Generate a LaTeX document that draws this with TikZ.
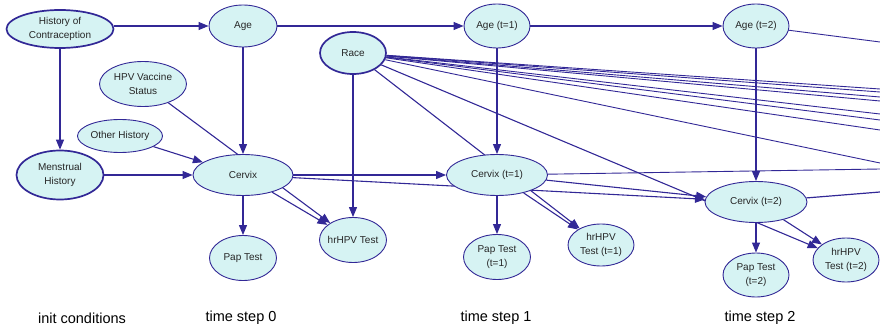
\documentclass[tikz,border=0pt]{standalone}
\usepackage{fontspec}
\setmainfont{Liberation Sans}
\usetikzlibrary{arrows.meta, shapes.geometric, backgrounds}
\definecolor{netblue}{RGB}{50,40,150}
\definecolor{netfill}{RGB}{214,243,243}

\begin{document}
\begin{tikzpicture}[x=1pt, y=-1pt, line join=round, >={Triangle[length=10pt,width=8pt]}, every node/.style={font=\fontsize{10}{14}\selectfont, align=center, text=black!85},
	var/.style={ellipse, draw=netblue, fill=netfill, line width=0.9pt, inner xsep=-3pt, inner ysep=0pt},
	rootvar/.style={var, line width=1.7pt},
	link/.style={->, draw=netblue, line width=1.1pt},
	stub/.style={draw=netblue, line width=0.9pt},
	steplabel/.style={font=\fontsize{14.5}{17}\selectfont, text=black}]
	\useasboundingbox (0,0) rectangle (880,331);
	% init conditions
	\node[rootvar, minimum width=107pt, minimum height=38pt] (contra) at (60,29) {History of\\Contraception};
	\node[rootvar, minimum width=87pt, minimum height=49pt] (mens) at (60,175) {Menstrual\\History};
	\node[var, minimum width=87pt, minimum height=45pt] (vacc) at (143,84) {HPV Vaccine\\Status};
	\node[var, minimum width=85pt, minimum height=33pt] (other) at (120,136) {Other History};
	\node[rootvar, minimum width=66pt, minimum height=42pt] (race) at (353,53) {Race};
	% time step 0
	\node[var, minimum width=68pt, minimum height=42pt] (age0) at (243,26) {Age};
	\node[var, minimum width=100pt, minimum height=41pt] (cervix0) at (243,175) {Cervix};
	\node[var, minimum width=67pt, minimum height=45pt] (pap0) at (243,258) {Pap Test};
	\node[var, minimum width=67pt, minimum height=45pt] (hpv0) at (353,240) {hrHPV Test};
	% time step 1
	\node[var, minimum width=66pt, minimum height=44pt] (age1) at (497,26) {Age (t=1)};
	\node[var, minimum width=101pt, minimum height=41pt] (cervix1) at (497,175) {Cervix (t=1)};
	\node[var, minimum width=67pt, minimum height=45pt] (pap1) at (497,257) {Pap Test\\(t=1)};
	\node[var, minimum width=66pt, minimum height=42pt] (hpv1) at (601,245) {hrHPV\\Test (t=1)};
	% time step 2
	\node[var, minimum width=66pt, minimum height=44pt] (age2) at (756,26) {Age (t=2)};
	\node[var, minimum width=102pt, minimum height=41pt] (cervix2) at (756,202) {Cervix (t=2)};
	\node[var, minimum width=66pt, minimum height=44pt] (pap2) at (756,275) {Pap Test\\(t=2)};
	\node[var, minimum width=66pt, minimum height=44pt] (hpv2) at (846,260) {hrHPV\\Test (t=2)};

	\node[steplabel] (lblinit) at (82,318) {init conditions};
	\node[steplabel] (lbl0) at (241,318) {time step 0};
	\node[steplabel] (lbl1) at (496,318) {time step 1};
	\node[steplabel] (lbl2) at (760,318) {time step 2};

	\coordinate (age3) at (880,42);
	\coordinate (cervix3a) at (880,169);
	\coordinate (cervix3b) at (880,192);

	\begin{pgfonlayer}{background}
		\draw[link] (age0.west -| contra.east) -- (age0);
		\draw[link] (contra) -- (mens);
		\draw[link] (mens) -- (cervix0);
		\draw[link] (other) -- (cervix0);
		\draw[link] (age0) -- (cervix0);
		\draw[link] (vacc) -- (hpv0);
		\draw[link] (cervix0) -- (pap0);
		\draw[link] (cervix0) -- (hpv0);
		\draw[link] (race) -- (hpv0);
		\draw[link] (age0) -- (age1);
		\draw[link] (cervix0) -- (cervix1);
		\draw[link] (cervix0) -- (cervix2);
		\draw[link] (age1) -- (cervix1);
		\draw[link] (cervix1) -- (pap1);
		\draw[link] (cervix1) -- (hpv1);
		\draw[link] (race) -- (hpv1);
		\draw[link] (age1) -- (age2);
		\draw[link] (cervix1) -- (cervix2);
		\draw[link] (age2) -- (cervix2);
		\draw[link] (cervix2) -- (pap2);
		\draw[link] (cervix2) -- (hpv2);
		\draw[link] (race) -- (hpv2);
		\draw[stub] (age2) -- (age3);
		\draw[stub] (cervix1) -- (cervix3a);
		\draw[stub, line width=1.2pt] (cervix2) -- (cervix3b);
		\foreach \i/\y in {1/89, 2/92, 3/97, 4/101, 5/114, 6/120, 7/130, 8/163}{
			\coordinate (raceout\i) at (880,\y);
			\draw[stub] (race) -- (raceout\i);
		}
	\end{pgfonlayer}
\end{tikzpicture}
\end{document}
